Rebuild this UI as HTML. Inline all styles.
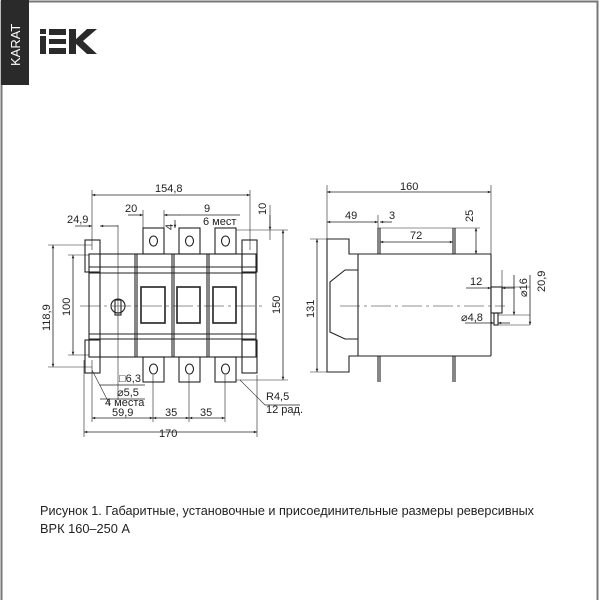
<!DOCTYPE html>
<html><head><meta charset="utf-8"><style>
html,body{margin:0;padding:0;background:#fff}
svg{display:block}
text{font-family:"Liberation Sans",sans-serif;fill:#222}
</style></head><body>
<svg width="600" height="600" viewBox="0 0 600 600" xmlns="http://www.w3.org/2000/svg">
<defs>
<marker id="a" viewBox="0 0 10 10" refX="10" refY="5" markerWidth="6" markerHeight="4" orient="auto-start-reverse"><path d="M0,1 L10,5 L0,9 z" fill="#222"/></marker>
</defs>
<path d="M1.5,600 V1.5 H597.5 V600" fill="none" stroke="#777" stroke-width="2"/>
<rect x="1" y="0" width="28" height="85" fill="#2a2a2a"/>
<text x="0" y="0" transform="translate(20,66) rotate(-90)" font-size="13" style="fill:#fff">KARAT</text>
<g fill="#2a2a2a">
<rect x="40" y="29" width="6" height="5"/><rect x="40" y="36" width="6" height="18"/>
<rect x="49" y="29" width="17" height="6"/><rect x="49" y="39" width="17" height="5"/><rect x="49" y="48" width="17" height="6"/>
<rect x="69" y="29" width="7" height="25"/>
<path d="M75,40 L87,29 H97 L83,41 L97,54 H87 L75,43 z"/>
</g>

<g fill="none" stroke="#222" stroke-width="1.1">
<rect x="89" y="254" width="167" height="103"/>
<line x1="89" y1="267" x2="256" y2="267"/><line x1="89" y1="273" x2="256" y2="273"/>
<line x1="89" y1="334" x2="256" y2="334"/><line x1="89" y1="339" x2="256" y2="339"/>
<line x1="100" y1="254" x2="100" y2="357"/><line x1="135" y1="254" x2="135" y2="357"/><line x1="137" y1="254" x2="137" y2="357"/>
<line x1="172" y1="254" x2="172" y2="357"/><line x1="174" y1="254" x2="174" y2="357"/>
<line x1="207" y1="254" x2="207" y2="357"/><line x1="209" y1="254" x2="209" y2="357"/>
<line x1="242" y1="254" x2="242" y2="357"/>
<rect x="141" y="287" width="24" height="36" stroke-width="1.6"/>
<rect x="177" y="287" width="23" height="36" stroke-width="1.6"/>
<rect x="213" y="287" width="23" height="36" stroke-width="1.6"/>
<rect x="85" y="240" width="15" height="32"/><rect x="242" y="240" width="15" height="32"/>
<rect x="85" y="340" width="15" height="33"/><rect x="242" y="340" width="15" height="33"/>
<rect x="143" y="228" width="21" height="26"/><rect x="179" y="228" width="21" height="26"/><rect x="215" y="228" width="21" height="26"/>
<ellipse cx="153.5" cy="241" rx="4" ry="5"/><ellipse cx="189.5" cy="241" rx="4" ry="5"/><ellipse cx="225.5" cy="241" rx="4" ry="5"/>
<rect x="143" y="357" width="21" height="25"/><rect x="179" y="357" width="21" height="25"/><rect x="215" y="357" width="21" height="25"/>
<ellipse cx="153.5" cy="369" rx="4" ry="5"/><ellipse cx="189.5" cy="369" rx="4" ry="5"/><ellipse cx="225.5" cy="369" rx="4" ry="5"/>
<circle cx="118" cy="306" r="7"/><rect x="115" y="300" width="6" height="15"/>
<line x1="80" y1="306" x2="265" y2="306" stroke-dasharray="20,4,3,4" stroke-width="0.6"/>
<g stroke-width="0.6">
<line x1="92" y1="190" x2="92" y2="250"/><line x1="250" y1="190" x2="250" y2="250"/>
<line x1="84" y1="360" x2="84" y2="437"/><line x1="257" y1="375" x2="257" y2="437"/>
<line x1="92" y1="360" x2="92" y2="422"/><line x1="153" y1="375" x2="153" y2="422"/><line x1="189" y1="375" x2="189" y2="422"/><line x1="225" y1="375" x2="225" y2="422"/>
<line x1="118" y1="225" x2="118" y2="400"/>
<line x1="48" y1="245" x2="92" y2="245"/><line x1="48" y1="367" x2="92" y2="367"/>
<line x1="68" y1="255" x2="89" y2="255"/><line x1="68" y1="355" x2="89" y2="355"/>
<line x1="236" y1="230" x2="288" y2="230"/><line x1="236" y1="380" x2="288" y2="380"/>
<line x1="143" y1="210" x2="143" y2="228"/><line x1="164" y1="210" x2="164" y2="228"/>
<line x1="270" y1="205" x2="270" y2="240"/>
<line x1="240" y1="380" x2="265" y2="405" />
<line x1="92" y1="370" x2="110" y2="405"/>
</g>
<g stroke-width="0.8">
<line x1="92" y1="195" x2="250" y2="195" marker-start="url(#a)" marker-end="url(#a)"/>
<line x1="75" y1="226" x2="92" y2="226" marker-end="url(#a)"/><line x1="118" y1="226" x2="100" y2="226" marker-end="url(#a)"/>
<line x1="128" y1="215" x2="143" y2="215" marker-end="url(#a)"/><line x1="180" y1="215" x2="164" y2="215" marker-end="url(#a)"/>
<line x1="179" y1="215" x2="240" y2="215"/>
<line x1="270" y1="215" x2="270" y2="230" marker-end="url(#a)"/>
<line x1="175" y1="220" x2="175" y2="228" marker-end="url(#a)"/>
<line x1="283" y1="230" x2="283" y2="380" marker-start="url(#a)" marker-end="url(#a)"/>
<line x1="53" y1="245" x2="53" y2="367" marker-start="url(#a)" marker-end="url(#a)"/>
<line x1="73" y1="255" x2="73" y2="355" marker-start="url(#a)" marker-end="url(#a)"/>
<line x1="84" y1="432" x2="257" y2="432" marker-start="url(#a)" marker-end="url(#a)"/>
<line x1="92" y1="418" x2="153" y2="418" marker-start="url(#a)" marker-end="url(#a)"/>
<line x1="153" y1="418" x2="189" y2="418" marker-start="url(#a)" marker-end="url(#a)"/>
<line x1="189" y1="418" x2="225" y2="418" marker-start="url(#a)" marker-end="url(#a)"/>
<line x1="265" y1="405" x2="300" y2="405"/>
<line x1="100" y1="385" x2="145" y2="385"/>
<line x1="100" y1="399" x2="145" y2="399"/>
</g>

<path d="M327,239 H349 V254 H358 V270 H345 L330,282 V332 L345,339 H358 V356 H349 V372 H327 Z"/>
<line x1="358" y1="254" x2="491" y2="254"/><line x1="358" y1="356" x2="491" y2="356"/>
<line x1="491" y1="254" x2="491" y2="356"/>
<line x1="358" y1="270" x2="358" y2="339"/>
<line x1="378" y1="228" x2="378" y2="254"/><line x1="380" y1="228" x2="380" y2="254"/>
<line x1="453" y1="228" x2="453" y2="254"/><line x1="455" y1="228" x2="455" y2="254"/>
<line x1="378" y1="356" x2="378" y2="382"/><line x1="380" y1="356" x2="380" y2="382"/>
<line x1="453" y1="356" x2="453" y2="382"/><line x1="455" y1="356" x2="455" y2="382"/>
<rect x="491" y="287" width="11" height="26"/>
<rect x="494" y="313" width="4" height="12"/>
<line x1="340" y1="306" x2="505" y2="306" stroke-dasharray="20,4,3,4" stroke-width="0.6"/>
<g stroke-width="0.6">
<line x1="327" y1="185" x2="327" y2="239"/><line x1="491" y1="185" x2="491" y2="254"/>
<line x1="378" y1="215" x2="378" y2="228"/>
<line x1="310" y1="239" x2="327" y2="239"/><line x1="310" y1="372" x2="327" y2="372"/>
<line x1="378" y1="228" x2="480" y2="228"/>
<line x1="502" y1="270" x2="502" y2="287"/>
<line x1="502" y1="287" x2="530" y2="287"/><line x1="498" y1="315" x2="530" y2="315"/>
<line x1="498" y1="325" x2="530" y2="325"/>
</g>
<g stroke-width="0.8">
<line x1="327" y1="192" x2="491" y2="192" marker-start="url(#a)" marker-end="url(#a)"/>
<line x1="327" y1="222" x2="378" y2="222" marker-end="url(#a)" marker-start="url(#a)"/>
<line x1="392" y1="222" x2="380" y2="222" marker-end="url(#a)"/>
<line x1="380" y1="242" x2="453" y2="242" marker-start="url(#a)" marker-end="url(#a)"/>
<line x1="476" y1="228" x2="476" y2="254" marker-start="url(#a)" marker-end="url(#a)"/>
<line x1="317" y1="239" x2="317" y2="372" marker-start="url(#a)" marker-end="url(#a)"/>
<line x1="466" y1="288" x2="491" y2="288" marker-end="url(#a)"/><line x1="515" y1="288" x2="502" y2="288" marker-end="url(#a)"/>
<line x1="465" y1="323" x2="494" y2="323" marker-end="url(#a)"/><line x1="510" y1="323" x2="498" y2="323" marker-end="url(#a)"/>
<line x1="530" y1="275" x2="530" y2="325" marker-end="url(#a)"/>
<line x1="514" y1="275" x2="514" y2="315" marker-end="url(#a)"/>
</g>
</g>

<g font-size="11">
<text x="155" y="192">154,8</text>
<text x="67" y="223">24,9</text>
<text x="125" y="212">20</text>
<text x="204" y="212">9</text>
<text x="203" y="225">6 мест</text>
<text x="0" y="0" transform="translate(173,230) rotate(-90)">4</text>
<text x="0" y="0" transform="translate(266,215) rotate(-90)">10</text>
<text x="0" y="0" transform="translate(50,331) rotate(-90)">118,9</text>
<text x="0" y="0" transform="translate(70,316) rotate(-90)">100</text>
<text x="0" y="0" transform="translate(280,314) rotate(-90)">150</text>
<text x="119" y="382">□6,3</text>
<text x="117" y="396">⌀5,5</text>
<text x="105" y="406">4 места</text>
<text x="112" y="416">59,9</text>
<text x="165" y="416">35</text>
<text x="200" y="416">35</text>
<text x="159" y="437">170</text>
<text x="266" y="400">R4,5</text>
<text x="266" y="413">12 рад.</text>
<text x="400" y="190">160</text>
<text x="345" y="219">49</text>
<text x="389" y="219">3</text>
<text x="410" y="239">72</text>
<text x="0" y="0" transform="translate(473,222) rotate(-90)">25</text>
<text x="0" y="0" transform="translate(314,318) rotate(-90)">131</text>
<text x="470" y="285">12</text>
<text x="0" y="0" transform="translate(527,297) rotate(-90)">⌀16</text>
<text x="0" y="0" transform="translate(545,292) rotate(-90)">20,9</text>
<text x="461" y="321">⌀4,8</text>
</g>
<text x="40" y="515" font-size="13" textLength="494" lengthAdjust="spacingAndGlyphs">Рисунок 1. Габаритные, установочные и присоединительные размеры реверсивных</text>
<text x="40" y="533" font-size="13" textLength="90" lengthAdjust="spacingAndGlyphs">ВРК 160–250 А</text>
</svg>
</body></html>
